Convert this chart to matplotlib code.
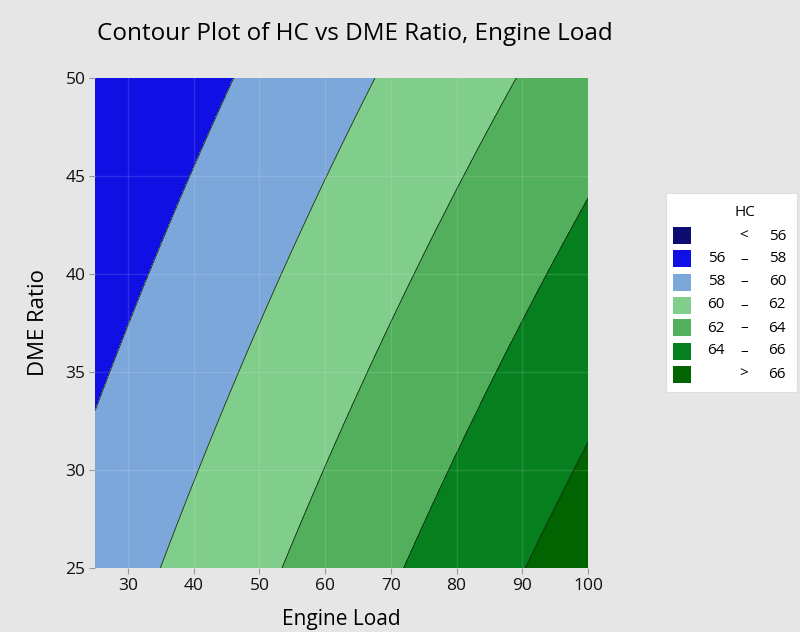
import numpy as np
import matplotlib
matplotlib.use('Agg')
import matplotlib.pyplot as plt
from matplotlib.patches import Rectangle

# fitted surface HC = b0 + b1*Load + b2*DME + b3*Load*DME (coefficients)
coef_names = ['const', 'load', 'dme', 'load*dme']
coef_vals = [58.748, 0.123, -0.1007, -0.0006]

load_range = [25, 100]
dme_range = [25, 50]
levels = [40, 56, 58, 60, 62, 64, 66, 80]
colors = ['#0c0c72', '#1010e4', '#7ca7da', '#80cd8c', '#52b05c', '#06801f', '#006400']
legend_left = ['', '56', '58', '60', '62', '64', '']
legend_mid = ['<', '–', '–', '–', '–', '–', '>']
legend_right = ['56', '58', '60', '62', '64', '66', '66']

plt.rcParams['font.family'] = ['Open Sans', 'DejaVu Sans']

L, D = np.meshgrid(np.linspace(*load_range, 300), np.linspace(*dme_range, 300))
b0, b1, b2, b3 = coef_vals
HC = b0 + b1 * L + b2 * D + b3 * L * D

fig = plt.figure(figsize=(8, 6.32), dpi=100)
fig.patch.set_facecolor('#e6e6e6')
ax = fig.add_axes([0.119, 0.101, 0.616, 0.776])
ax.contourf(L, D, HC, levels=levels, colors=colors)
ax.contour(L, D, HC, levels=levels[1:-1], colors='#1a2a1a', linewidths=0.6)

for x in [30, 40, 50, 60, 70, 80, 90]:
    ax.axvline(x, color='white', alpha=0.12, lw=1)
for y in [30, 35, 40, 45]:
    ax.axhline(y, color='white', alpha=0.12, lw=1)

ax.set_xlim(*load_range)
ax.set_ylim(*dme_range)
ax.set_xticks([30, 40, 50, 60, 70, 80, 90, 100])
ax.set_yticks([25, 30, 35, 40, 45, 50])
for s in ax.spines.values():
    s.set_visible(False)
ax.tick_params(labelsize=12.5, length=4, pad=3, colors='#999999', labelcolor='#111111')
ax.set_xlabel('Engine Load', fontsize=15, labelpad=11)
ax.set_ylabel('DME Ratio', fontsize=16, labelpad=12)
fig.text(0.444, 0.946, 'Contour Plot of HC vs DME Ratio, Engine Load', fontsize=17.5,
         ha='center', va='center')

# legend box
W, H = 800, 632
fig.patches.append(Rectangle((666 / W, 1 - 392 / H), 131 / W, 199 / H, transform=fig.transFigure,
                             facecolor='white', edgecolor='#dddddd', lw=0.8))
fig.text(745 / W, 1 - 212 / H, 'HC', fontsize=11, ha='center', va='center')
for i, c in enumerate(colors):
    yc = 236 + i * 23
    fig.patches.append(Rectangle((673 / W, 1 - (yc + 8.5) / H), 18 / W, 17 / H,
                                 transform=fig.transFigure, facecolor=c, edgecolor='none'))
    fig.text(725 / W, 1 - yc / H, legend_left[i], fontsize=11, ha='right', va='center')
    fig.text(744 / W, 1 - yc / H, legend_mid[i], fontsize=11, ha='center', va='center')
    fig.text(786 / W, 1 - yc / H, legend_right[i], fontsize=11, ha='right', va='center')

fig.savefig('out.png', dpi=100, facecolor=fig.get_facecolor())
